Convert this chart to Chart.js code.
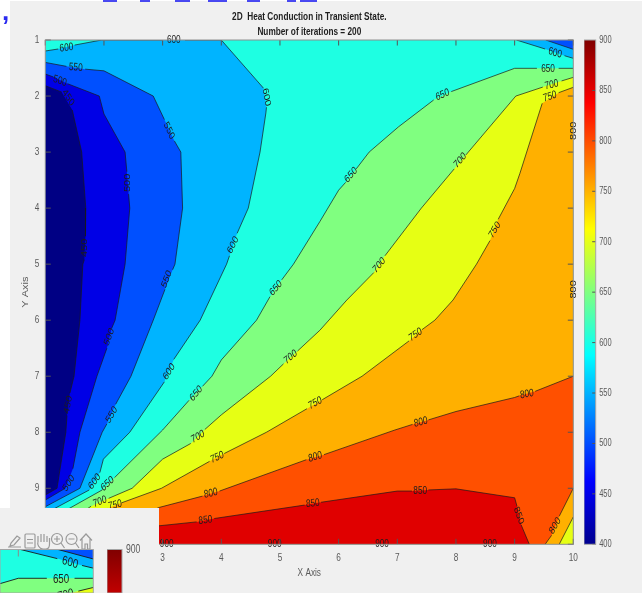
<!DOCTYPE html>
<html>
<head>
<meta charset="utf-8">
<script src="https://cdn.jsdelivr.net/npm/chart.js@4/dist/chart.umd.min.js"></script>
<style>
html,body{margin:0;padding:0;background:#f0f0f0;width:642px;height:593px;overflow:hidden}
canvas{position:absolute;filter:blur(.35px)}
.abs{position:absolute}
</style>
</head>
<body>
<div class="abs" style="left:0;top:0;width:642px;height:1px;background:#fff"></div>
<div class="abs" style="left:0;top:0;width:10px;height:508px;background:#fff"></div>
<div id="bits"></div>
<div class="abs" style="left:2px;top:-4px;color:#2a2af0;font:bold 26px 'Liberation Sans';filter:blur(.5px)">,</div>
<canvas id="main" width="642" height="593" style="left:0;top:0"></canvas>
<canvas id="bar" width="58" height="530" style="left:584px;top:30px"></canvas>
<div class="abs" style="left:0;top:507.7px;width:159px;height:86px;background:#f0f0f0"></div>
<svg class="abs" style="left:0;top:531px;filter:blur(.5px)" width="100" height="20" fill="none" stroke="#9a9a9a" stroke-width="1.2">
  <path d="M10 15 L14 14 L20 7 L17 5 L11 12 Z M8 16 H21"/>
  <rect x="25" y="3" width="10" height="14" rx="1"/><path d="M27 8.500h6M27 12h6"/>
  <path d="M38 11 V5 M41 11 V3 M44 11 V3 M47 11 V5 M49.500 13 V7 M38 11 C37 13 39 18 43 18 H46 C49 18 49.500 15 49.500 13"/>
  <circle cx="57" cy="8" r="5.500"/><path d="M61 12 L64.500 17 M54 8 H60 M57 5 V11"/>
  <circle cx="71.500" cy="8" r="5.500"/><path d="M75.500 12 L79 17 M68.500 8 H74.500"/>
  <path d="M80 9.500 L86 3 L92 9.500 M82 8 V18 H85 V13 H87.500 V18 H90 V8"/>
</svg>
<canvas id="miniField" width="94" height="44" style="left:0;top:549px"></canvas>
<canvas id="miniBar" width="50" height="54" style="left:107px;top:539px"></canvas>
<script>
// ---------- values ----------
const GAP = null;                       // a break in a contour where its label sits
const xTicks = [1,2,3,4,5,6,7,8,9,10];
const yTicks = [1,2,3,4,5,6,7,8,9,10];
const colorTicks = [400,450,500,550,600,650,700,750,800,850,900];
const titleLines = ['2D  Heat Conduction in Transient State.','Number of iterations = 200'];
const domainCorners = [[1,1],[10,1],[10,10],[1,10]];

// contour lines in data units (x, y)
const c450 = [[1,1.815],[1.28,1.93],GAP,[1.46,2.25],[1.62,3],[1.69,4],[1.685,4.5],GAP,[1.665,4.92],[1.64,5],[1.59,6],[1.49,7],[1.42,7.3],GAP,[1.37,7.7],[1.35,8],[1.2,9],[1,9.12]];
const c500 = [[1,1.607],[1.14,1.66],GAP,[1.38,1.78],[1.92,2],[2,2.32],[2.36,3],[2.39,3.35],GAP,[2.42,3.75],[2.44,4],[2.36,5],[2.19,6],[2.13,6.15],GAP,[2.05,6.5],[1.88,7],[1.59,8],[1.47,8.65],GAP,[1.34,9],[1,9.21]];
const c550 = [[1,1.4],[1.36,1.47],GAP,[1.68,1.52],[2,1.55],[2.84,2],[3.03,2.42],GAP,[3.2,2.8],[3.31,3],[3.34,4],[3.21,5],[3.17,5.1],GAP,[3.04,5.45],[2.84,6],[2.46,7],[2.2,7.5],GAP,[2.05,7.85],[1.97,8],[1.59,9],[1,9.33]];
const c600 = [[1,1.196],[1.22,1.16],GAP,[1.5,1.09],[1.96,1],[3,1],GAP,[3.38,1],[4,1],[4.72,1.86],GAP,[4.77,2.2],[4.76,2.3],[4.66,3],[4.46,4],[4.27,4.45],GAP,[4.14,4.85],[4.09,5],[3.64,6],[3.19,6.7],GAP,[3.03,7.1],[2.44,8],[1.99,8.48],[1.93,8.72],GAP,[1.75,9.03],[1,9.45]];
const c650 = [[10,1.505],[9.75,1.505],GAP,[9.38,1.505],[9,1.505],[7.92,1.92],GAP,[7.62,2.07],[7.02,2.55],[6.52,3],[6.3,3.3],GAP,[6.12,3.54],[6,3.68],[5.68,4.24],[5.23,5],[5.03,5.28],GAP,[4.83,5.58],[4.6,6],[4,6.71],[3.84,7],[3.68,7.18],GAP,[3.45,7.43],[3,7.96],[2.18,8.81],GAP,[1.97,9.03],[1,9.6]];
const c700 = [[10,1.666],[9.8,1.73],GAP,[9.48,1.84],[9.02,2],[8.21,3],[8.17,3.05],GAP,[7.97,3.3],[7.41,4],[6.79,4.85],GAP,[6.6,5.15],[6.14,5.64],[5.68,6.18],[5.3,6.55],GAP,[5.06,6.78],[4.84,7],[4,7.69],[3.72,7.95],GAP,[3.48,8.2],[3,8.48],[2.48,9],[2.08,9.18],GAP,[1.78,9.32],[1.4,9.6],[1,9.8]];
const c750 = [[10,1.844],[9.75,1.94],GAP,[9.47,2.13],[9.09,3.38],[9,3.65],[8.72,4.2],GAP,[8.58,4.58],[8.35,5],[7.95,5.64],[7.64,6],[7.42,6.17],GAP,[7.2,6.37],[6.4,7],[5.72,7.42],GAP,[5.46,7.58],[4.77,8],[4.05,8.38],GAP,[3.8,8.52],[2.98,9],[2.3,9.26],GAP,[2.06,9.36],[1,9.9]];
const c800 = [[10,7],[9.35,7.27],GAP,[9.08,7.35],[9,7.38],[8,7.63],[7.53,7.78],GAP,[7.26,7.86],[6.96,7.96],[5.75,8.4],GAP,[5.45,8.49],[3.97,9.05],GAP,[3.68,9.14],[2.95,9.34],[1.8,9.8],[1.2,10]];
const c850 = [[1.6,10],[2.94,9.67],[3.58,9.6],GAP,[3.88,9.54],[5.42,9.3],GAP,[5.7,9.25],[7,9.05],[7.25,9.05],GAP,[7.53,9.03],[8,9.01],[9,9.17],[9.04,9.32],GAP,[9.11,9.65],[9.25,10]];
const c800Corner = [[9.52,10],[9.63,9.84],GAP,[9.76,9.5],[10,9]];
const c750Corner = [[9.76,10],[10,9.51]];
const c600Corner = [[9.03,1],[9.52,1.16],GAP,[9.85,1.28],[10,1.327]];
const c550Corner = [[9.53,1],[10,1.166]];

// contour labels: text, x, y
const labelText = ['600','550','500','450','600','600','550','500','450','600','550','650','500','450','550','600','650','700','700','750','750','800','850','800','850','500','600','650','700','750','600','650','700','750','650','650','700','700','750','750','800','800','850','850','800','900','900','900','900','800','800'];
const labelX = [1.36,1.52,1.25,1.39,3.19,4.77,3.11,2.40,1.68,4.20,3.07,4.93,2.09,1.39,2.13,3.11,3.57,5.18,3.60,5.60,3.93,3.82,3.73,5.60,5.56,1.40,1.84,2.06,1.93,2.19,9.69,9.57,9.63,9.60,7.77,6.21,8.07,6.69,8.66,7.31,9.21,7.40,7.39,9.07,9.69,3.07,4.91,6.74,8.58,10,10];
const labelY = [1.14,1.49,1.73,2.03,1,2.02,2.62,3.55,4.71,4.66,5.27,5.43,6.30,7.51,7.69,6.92,7.31,6.66,8.08,7.48,8.45,9.09,9.57,8.44,9.27,8.91,8.88,8.92,9.24,9.30,1.23,1.52,1.80,2.01,1.98,3.41,3.15,5.02,4.39,6.26,7.32,7.82,9.05,9.49,9.67,10,10,10,10,2.62,5.45];
const labelAngle = [-8,5,20,58,0,80,65,-90,-90,-65,-70,-50,-70,-80,-60,-58,-50,-40,-30,-30,-25,-15,-8,-17,-7,-60,-55,-45,-22,-15,18,0,-15,-18,-25,-50,-50,-50,-60,-35,-12,-15,0,70,-60,0,0,0,0,-90,-90];

// band colours, coldest to hottest
const bandColors = ['#000084','#0000e6','#0050ff','#00b4ff','#1effe2','#80ff80','#e6ff14','#ffb000','#ff5000','#e00000'];
// jet ramp of the colour bar
const jetStops = [0,0.125,0.375,0.625,0.875,1];
const jetColors = ['#00008f','#0000ff','#00ffff','#ffff00','#ff0000','#800000'];
const blueBitsLeft = [103,140,175,208,247,287,300];
const blueBitsWidth = [14,10,15,19,13,9,17];

// ---------- helpers ----------
blueBitsLeft.forEach((l,i)=>{
  const d=document.createElement('div');
  d.className='abs';
  d.style.cssText=`left:${l}px;top:0;width:${blueBitsWidth[i]}px;height:2px;background:#2a2af0;opacity:.85;filter:blur(.4px)`;
  document.getElementById('bits').appendChild(d);
});
const FONT = "'Liberation Sans',Arial,sans-serif";
// the reference picture is squeezed sideways, so every text is drawn narrower along the page's x direction
function condensed(canvas,k){
  const ctx=canvas.getContext('2d');
  const draw=ctx.fillText.bind(ctx);
  ctx.fillText=(t,x,y)=>{
    const m=ctx.getTransform();
    const p=m.transformPoint(new DOMPoint(x,y));
    ctx.save();
    ctx.setTransform(new DOMMatrix().translate(p.x,p.y).scale(k,1).translate(-p.x,-p.y).multiply(m));
    draw(t,x,y);
    ctx.restore();
  };
  return canvas;
}
const pts = a => a.map(p => p ? {x:p[0],y:p[1]} : {x:NaN,y:NaN});
const solid = a => a.filter(Boolean);

function inwardFrame(o){
  return { id:'frame', afterDraw(chart){
    const {ctx,chartArea:a,scales:{x,y}} = chart;
    ctx.save();
    ctx.lineWidth=1; ctx.strokeStyle=o.tickColor;
    ctx.beginPath();
    if(o.xt) o.xt.forEach(v=>{const p=x.getPixelForValue(v); if(p<a.left||p>a.right)return;
      ctx.moveTo(p,a.top);ctx.lineTo(p,a.top+o.len);
      if(o.bottomTicks){ctx.moveTo(p,a.bottom);ctx.lineTo(p,a.bottom-o.len);}});
    if(o.yt) o.yt.forEach(v=>{const p=y.getPixelForValue(v); if(p<a.top||p>a.bottom)return;
      if(o.leftTicks){ctx.moveTo(a.left,p);ctx.lineTo(a.left+o.len,p);}
      ctx.moveTo(a.right,p);ctx.lineTo(a.right-o.len,p);});
    ctx.stroke();
    ctx.strokeStyle=o.boxColor;
    ctx.strokeRect(a.left,a.top,a.right-a.left,a.bottom-a.top);
    ctx.restore();
  }};
}
const contourLabels = (size,k,clip) => ({ id:'contourLabels', afterDatasetsDraw(chart){
  const {ctx,chartArea:a,scales:{x,y}} = chart;
  ctx.save();
  if(clip){ctx.beginPath();ctx.rect(a.left,a.top,a.right-a.left,chart.height);ctx.clip();}
  ctx.fillStyle='#1c1c1c';
  ctx.font=`${size}px ${FONT}`;
  ctx.textAlign='center';ctx.textBaseline='middle';
  labelText.forEach((t,i)=>{
    const th=labelAngle[i]*Math.PI/180;
    ctx.save();
    ctx.translate(x.getPixelForValue(labelX[i]),y.getPixelForValue(labelY[i]));
    ctx.rotate(Math.atan2(k*Math.sin(th),Math.cos(th)));   // so the squeezed text ends up at the read angle
    ctx.fillText(t,0,0);
    ctx.restore();
  });
  ctx.restore();
}});

function fieldDatasets(lineWidth){
  const fills = [
    [domainCorners, bandColors[4]],
    [c600, bandColors[3]],[c600Corner.concat([[10,1]]), bandColors[3]],
    [c550, bandColors[2]],[c550Corner.concat([[10,1]]), bandColors[2]],
    [c500, bandColors[1]],
    [c450, bandColors[0]],
    [c650.concat([[1,10],[10,10]]), bandColors[5]],
    [c700.concat([[1,10],[10,10]]), bandColors[6]],
    [c750.concat([[1,10],[10,10]]), bandColors[7]],
    [c800.concat(c800Corner), bandColors[8]],
    [c750Corner.concat([[10,10]]), bandColors[6]],
    [c850, bandColors[9]]
  ];
  const lines = [c450,c500,c550,c600,c650,c700,c750,c800,c850,c800Corner,c750Corner,c600Corner,c550Corner];
  const ds = [];
  fills.forEach(([poly,color])=>ds.push({data:pts(solid(poly)),showLine:true,pointRadius:0,borderWidth:0,backgroundColor:color,fill:'shape',tension:0}));
  lines.forEach(l=>ds.push({data:pts(l),showLine:true,pointRadius:0,borderWidth:lineWidth,borderColor:'#1a1a1a',fill:false,tension:0,spanGaps:false}));
  ds.forEach((d,i)=>d.order=ds.length-i);
  return ds;
}
function colorBar(canvas,opts){
  return new Chart(canvas,{
    type:'bar',
    data:{labels:['T'],datasets:[{data:[[opts.min,opts.max]],barPercentage:1,categoryPercentage:1,borderWidth:0,
      backgroundColor(c){
        const {chart}=c; const ys=chart.scales.y;
        const y0=ys?ys.getPixelForValue(colorTicks[0]):NaN, y1=ys?ys.getPixelForValue(colorTicks[colorTicks.length-1]):NaN;
        if(!isFinite(y0)||!isFinite(y1)) return jetColors[jetColors.length-1];
        const g=chart.ctx.createLinearGradient(0,y0,0,y1);
        jetStops.forEach((s,i)=>g.addColorStop(s,jetColors[i]));
        return g;
      }}]},
    options:{responsive:false,animation:false,
      layout:{padding:opts.padding},
      plugins:{legend:{display:false},tooltip:{enabled:false}},
      scales:{
        x:{display:false},
        y:{position:'right',min:opts.min,max:opts.max,
          afterBuildTicks:s=>{s.ticks=colorTicks.filter(v=>v>=opts.min&&v<=opts.max).map(value=>({value}));},
          afterFit:s=>{s.width=opts.scaleWidth;s.paddingTop=0;s.paddingBottom=0;},
          grid:{display:false,drawTicks:false},border:{display:false},
          ticks:{padding:opts.tickPad,color:'#5a5a5a',font:{family:FONT,size:opts.font}}}
      }
    },
    plugins:[inwardFrame({tickColor:'#555',boxColor:'#a4a4a4',len:3.5,yt:colorTicks.filter(v=>v>=opts.min&&v<opts.max)})]
  });
}

// ---------- main contour chart ----------
new Chart(condensed(document.getElementById('main'),0.75),{
  type:'scatter',
  data:{datasets:fieldDatasets(0.7)},
  options:{responsive:false,animation:false,
    layout:{padding:{left:0,right:68.7,top:0,bottom:0}},
    plugins:{legend:{display:false},tooltip:{enabled:false},
      title:{display:true,fullSize:false,text:titleLines,color:'#1e1e1e',
        font:{family:FONT,size:11,weight:'bold',lineHeight:1.41},padding:{top:9,bottom:0}}},
    scales:{
      x:{type:'linear',min:1,max:10,afterBuildTicks:s=>{s.ticks=xTicks.map(value=>({value}));},
        afterFit:s=>{s.height=48.7;},
        grid:{display:false,drawTicks:false},border:{display:false},
        ticks:{padding:7,color:'#5a5a5a',maxRotation:0,font:{family:FONT,size:11}},
        title:{display:true,text:'X Axis',color:'#5a5a5a',font:{family:FONT,size:11,lineHeight:1},padding:{top:0,bottom:14.5}}},
      y:{type:'linear',reverse:true,min:1,max:10,afterBuildTicks:s=>{s.ticks=yTicks.map(value=>({value}));},
        afterFit:s=>{s.width=45.3;},
        grid:{display:false,drawTicks:false},border:{display:false},
        ticks:{padding:6,color:'#5a5a5a',font:{family:FONT,size:11}},
        title:{display:true,text:'Y Axis',color:'#5a5a5a',font:{family:FONT,size:11,lineHeight:1},padding:{top:20,bottom:0}}}
    }
  },
  plugins:[contourLabels(11,0.75,false),inwardFrame({tickColor:'#555',boxColor:'#8e8e8e',len:5.5,xt:xTicks,yt:yTicks,bottomTicks:true,leftTicks:true})]
});
colorBar(condensed(document.getElementById('bar'),0.68),{min:400,max:900,padding:{top:10,bottom:15.7},scaleWidth:46.3,tickPad:3.5,font:11});

// ---------- magnified copy in the overlaid panel ----------
new Chart(condensed(document.getElementById('miniField'),0.78),{
  type:'scatter',
  data:{datasets:fieldDatasets(0.9)},
  options:{responsive:false,animation:false,
    layout:{padding:{top:0.5,right:0.7}},
    plugins:{legend:{display:false},tooltip:{enabled:false}},
    scales:{
      x:{type:'linear',display:false,min:8.756,max:10},
      y:{type:'linear',display:false,reverse:true,min:1,max:1.763}
    }
  },
  plugins:[contourLabels(12.5,0.78,true),inwardFrame({tickColor:'#8a8a8a',boxColor:'#a4a4a4',len:7,xt:xTicks})]
});
colorBar(condensed(document.getElementById('miniBar'),0.72),{min:868,max:900,padding:{top:10.5},scaleWidth:35,tickPad:4,font:12});
</script>
</body>
</html>
